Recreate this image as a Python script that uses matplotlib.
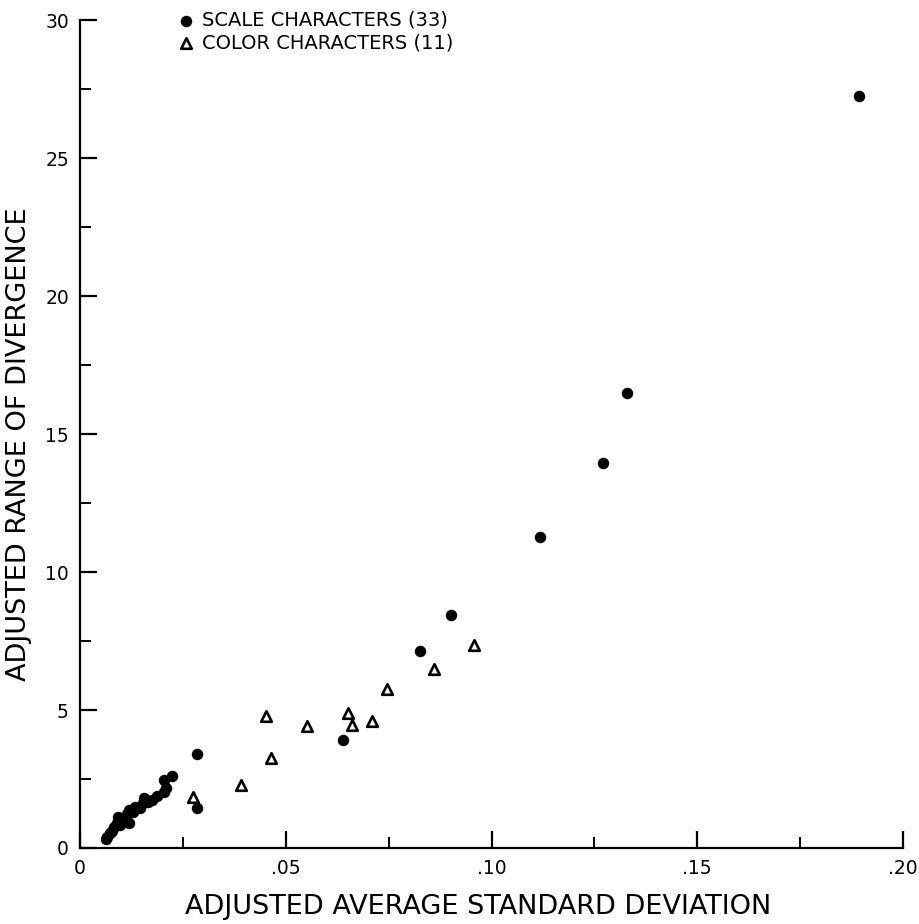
import matplotlib
matplotlib.use("Agg")
from matplotlib import pyplot as plt
from matplotlib.ticker import MultipleLocator, FixedLocator

# scale characters (filled circles), 33 points
scale_x = [0.1893, 0.1329, 0.1272, 0.1118, 0.0902, 0.0826, 0.0638, 0.0285, 0.0284,
           0.0223, 0.0203, 0.0209, 0.0203, 0.0186, 0.0174, 0.0155, 0.0152, 0.0146,
           0.0134, 0.0118, 0.0115, 0.0118, 0.0105, 0.0093, 0.0090, 0.0082, 0.0078,
           0.0073, 0.0066, 0.0062, 0.0128, 0.0165, 0.0097]
scale_y = [27.25, 16.5, 13.96, 11.28, 8.44, 7.14, 3.91, 3.41, 1.44,
           2.60, 2.45, 2.17, 2.02, 1.87, 1.75, 1.80, 1.62, 1.45,
           1.50, 1.38, 1.22, 0.92, 1.05, 1.13, 0.92, 0.75, 0.62,
           0.53, 0.40, 0.33, 1.30, 1.68, 0.85]

# color characters (open triangles), 11 points
color_x = [0.0957, 0.0860, 0.0746, 0.0451, 0.0652, 0.0660, 0.0709, 0.0551,
           0.0463, 0.0390, 0.0275]
color_y = [7.36, 6.49, 5.76, 4.78, 4.88, 4.46, 4.60, 4.42, 3.27, 2.30, 1.84]

x_ticks = [0, 0.05, 0.10, 0.15, 0.20]
x_labels = ["0", ".05", ".10", ".15", ".20"]
y_ticks = [0, 5, 10, 15, 20, 25, 30]

fig = plt.figure(figsize=(9.2, 9.24), dpi=100)
ax = fig.add_axes([0.087, 0.0823, 0.8945, 0.8957])

ax.scatter(scale_x, scale_y, s=68, marker="o", color="black",
           linewidths=0, label="SCALE CHARACTERS (33)", zorder=3, clip_on=False)
ax.scatter(color_x, color_y, s=58, marker="^", facecolor="white",
           edgecolor="black", linewidths=1.9, label="COLOR CHARACTERS (11)",
           zorder=4, clip_on=False)

ax.set_xlim(0, 0.20)
ax.set_ylim(0, 30)
ax.xaxis.set_major_locator(FixedLocator(x_ticks))
ax.set_xticklabels(x_labels)
ax.xaxis.set_minor_locator(MultipleLocator(0.025))
ax.yaxis.set_major_locator(FixedLocator(y_ticks))
ax.yaxis.set_minor_locator(MultipleLocator(2.5))

for side in ["top", "right"]:
    ax.spines[side].set_visible(False)
for side in ["left", "bottom"]:
    ax.spines[side].set_linewidth(1.6)

ax.tick_params(which="major", direction="in", length=12, width=1.6,
               labelsize=13.5, pad=8)
ax.tick_params(which="minor", direction="in", length=8, width=1.4)

# axis titles placed in figure coordinates
fig.text(0.52, 0.018, "ADJUSTED AVERAGE STANDARD DEVIATION", fontsize=19.5,
         ha="center", va="center")
fig.text(0.021, 0.519, "ADJUSTED RANGE OF DIVERGENCE", fontsize=19.5,
         ha="center", va="center", rotation=90)

ax.legend(loc="upper left", bbox_to_anchor=(0.18, 1.0),
          bbox_transform=fig.transFigure, frameon=False, fontsize=14,
          handletextpad=0.3, labelspacing=0.18, handlelength=1.0,
          borderaxespad=0.15)

fig.savefig("out.png", dpi=100)
